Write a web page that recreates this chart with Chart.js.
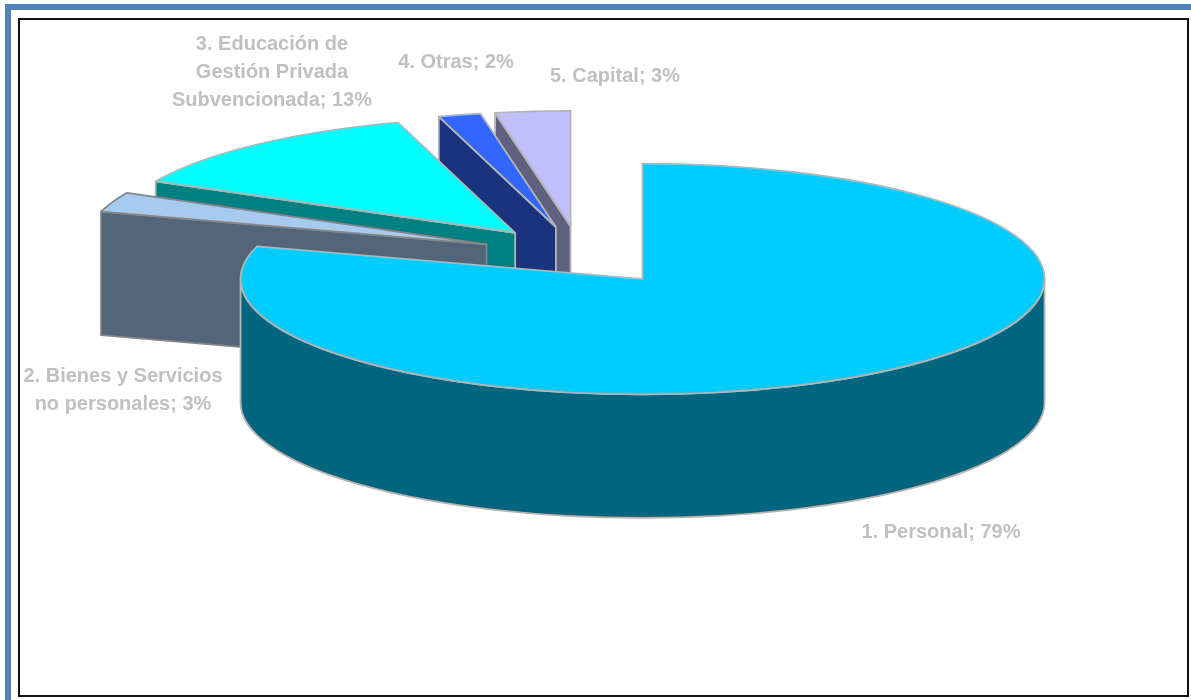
<!DOCTYPE html>
<html>
<head>
<meta charset="utf-8">
<style>
  html, body { margin: 0; padding: 0; background: #fff; overflow: hidden; }
  #wrap { position: relative; width: 1191px; height: 700px; }
  canvas { position: absolute; left: 0; top: 0; }
  .blue { position: absolute; background: #4f81bd; }
  #frame { position: absolute; left: 18px; top: 18px; width: 1167px; height: 675px; border: 2px solid #111; box-sizing: content-box; }
</style>
</head>
<body>
<div id="wrap">
  <div class="blue" style="left:5px;top:4px;width:1186px;height:6px"></div>
  <div class="blue" style="left:5px;top:4px;width:6px;height:696px"></div>
  <div id="frame"></div>
  <canvas id="chart" width="1191" height="700"></canvas>
</div>
<script src="https://cdn.jsdelivr.net/npm/chart.js@4"></script>
<script>
// --- data ---
const categories = ['1. Personal', '2. Bienes y Servicios\nno personales', '3. Educación de\nGestión Privada\nSubvencionada', '4. Otras', '5. Capital'];
const shares = [79.5, 2.8, 12.9, 1.7, 3.0];      // slice sizes as measured
const shareLabels = ['79%', '3%', '13%', '2%', '3%']; // as printed
const topColors = ['#00ccff', '#a6caf0', '#00ffff', '#3366ff', '#c0c0ff'];
const sideColors = ['#006680', '#536579', '#008080', '#1a337f', '#60607f'];
const edgeColors = ['#b4b4b4', '#868686', '#b4b4b4', '#b4b4b4', '#b4b4b4'];

// --- look of the fake 3D ---
const RADIUS = 402;
const TILT = 0.287;
const DEPTH = 123.5;
const explode = [0.26, 0.25, 0.25, 0.25, 0.25];
const paintOrder = [4, 3, 2, 1, 0];
const labelSpots = [[941, 532], [123, 376], [272, 44], [456, 62], [615, 76]];

function traceTop(ctx, c, a0, a1) {
    ctx.beginPath();
    ctx.moveTo(c.x, c.y);
    ctx.ellipse(c.x, c.y, RADIUS, RADIUS * TILT, 0, a0, a1);
    ctx.closePath();
}

function sidePoint(c, a) {
    return { x: c.x + RADIUS * Math.cos(a), y: c.y + RADIUS * TILT * Math.sin(a) };
}

function paintSlice(chart, arc, i) {
    const ctx = chart.ctx;
    const a0 = arc.startAngle, a1 = arc.endAngle;
    const mid = (a0 + a1) / 2;
    const c = {
        x: arc.x + RADIUS * explode[i] * Math.cos(mid),
        y: arc.y + RADIUS * explode[i] * TILT * Math.sin(mid)
    };
    ctx.save();
    ctx.lineWidth = 1.8;
    ctx.lineJoin = 'round';
    ctx.strokeStyle = edgeColors[i];
    ctx.fillStyle = sideColors[i];

    // cut face on the start edge, only when it looks toward the viewer
    if (Math.cos(a0) < -0.001) {
        const p = sidePoint(c, a0);
        ctx.beginPath();
        ctx.moveTo(c.x, c.y);
        ctx.lineTo(p.x, p.y);
        ctx.lineTo(p.x, p.y + DEPTH);
        ctx.lineTo(c.x, c.y + DEPTH);
        ctx.closePath();
        ctx.fill();
        ctx.stroke();
    }
    // rim, front half of the ellipse
    const lo = Math.max(a0, 0), hi = Math.min(a1, Math.PI);
    if (hi > lo) {
        ctx.beginPath();
        ctx.ellipse(c.x, c.y, RADIUS, RADIUS * TILT, 0, lo, hi);
        ctx.ellipse(c.x, c.y + DEPTH, RADIUS, RADIUS * TILT, 0, hi, lo, true);
        ctx.closePath();
        ctx.fill();
        ctx.stroke();
    }
    // top face is the library's arc, squashed
    ctx.save();
    ctx.translate(c.x, c.y);
    ctx.scale(1, TILT);
    ctx.translate(-arc.x, -arc.y);
    arc.draw(ctx, chart.chartArea);
    ctx.restore();
    traceTop(ctx, c, a0, a1);
    ctx.stroke();
    ctx.restore();
}

const pie3d = {
    id: 'pie3d',
    beforeDatasetDraw(chart, args) {
        paintOrder.forEach(i => paintSlice(chart, args.meta.data[i], i));
        return false;
    },
    afterDraw(chart) {
        const ctx = chart.ctx;
        ctx.save();
        ctx.font = 'bold 20px "Liberation Sans", Arial, sans-serif';
        ctx.fillStyle = '#c0c0c0';
        ctx.textAlign = 'center';
        ctx.textBaseline = 'middle';
        categories.forEach((name, i) => {
            const lines = (name + '; ' + shareLabels[i]).split('\n');
            lines.forEach((line, j) => ctx.fillText(line, labelSpots[i][0], labelSpots[i][1] + j * 28));
        });
        ctx.restore();
    }
};

new Chart(document.getElementById('chart'), {
    type: 'pie',
    data: {
        labels: categories,
        datasets: [{
            data: shares,
            backgroundColor: topColors,
            borderWidth: 0,
            clip: false
        }]
    },
    options: {
        responsive: false,
        animation: false,
        radius: RADIUS,
        layout: { padding: { right: 31, bottom: 190 } },
        plugins: { legend: { display: false }, tooltip: { enabled: false } }
    },
    plugins: [pie3d]
});
</script>
</body>
</html>
